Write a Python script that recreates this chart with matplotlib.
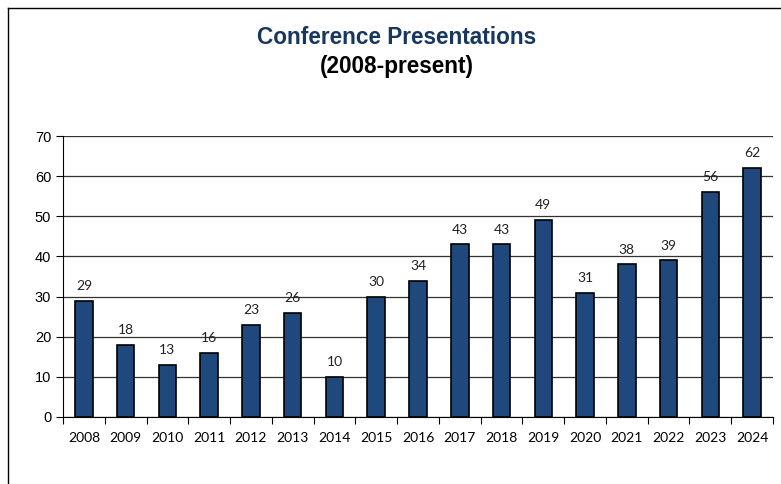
import numpy as np
import matplotlib.pyplot as plt
from matplotlib.lines import Line2D

# Datos
years = ['2008', '2009', '2010', '2011', '2012', '2013', '2014', '2015', '2016',
         '2017', '2018', '2019', '2020', '2021', '2022', '2023', '2024']
presentations = [29, 18, 13, 16, 23, 26, 10, 30, 34, 43, 43, 49, 31, 38, 39, 56, 62]

fig = plt.figure(figsize=(7.81, 4.84), dpi=100)
ax = fig.add_axes([63 / 781, 1 - 417 / 484, 710 / 781, 281 / 484])

x = np.arange(len(years))
ax.bar(x, presentations, width=0.42, color='#1F497D', edgecolor='black',
       linewidth=1.2, zorder=3)

# Etiquetas encima de cada barra
for xi, v in zip(x, presentations):
    ax.text(xi, v + 2.2, str(v), ha='center', va='bottom',
            fontsize=10, family='Lato', color='#222222')

ax.set_xlim(-0.5, len(years) - 0.5)
ax.set_ylim(0, 70)
ax.set_yticks(range(0, 71, 10))
ax.yaxis.grid(True, color='#333333', linewidth=0.9, zorder=0)

# Marcas del eje x entre categorías
ax.set_xticks(np.arange(-0.5, len(years)), minor=False)
ax.set_xticklabels([])
ax.set_xticks(x, minor=True)
ax.set_xticklabels(years, minor=True, family='Lato', fontsize=10)
ax.tick_params(axis='x', which='major', length=5, direction='out')
ax.tick_params(axis='x', which='minor', length=0, pad=11)
ax.tick_params(axis='y', length=5, labelsize=10.5)
for lbl in ax.get_yticklabels():
    lbl.set_family('Liberation Sans')

for s in ['top', 'right']:
    ax.spines[s].set_visible(False)

# Título
fig.text(397 / 781, 1 - 38 / 484, 'Conference Presentations', ha='center', va='center',
         fontsize=16.3, fontweight='bold', color='#17375E', family='Liberation Sans')
fig.text(397 / 781, 1 - 67 / 484, '(2008-present)', ha='center', va='center',
         fontsize=16.3, fontweight='bold', color='black', family='Liberation Sans')

# Marco del área del gráfico
fig.add_artist(Line2D([8 / 781, 8 / 781], [0, 1 - 8 / 484], color='black', linewidth=1))
fig.add_artist(Line2D([8 / 781, 1], [1 - 8 / 484, 1 - 8 / 484], color='black', linewidth=1))

plt.savefig('out.png', dpi=100)
